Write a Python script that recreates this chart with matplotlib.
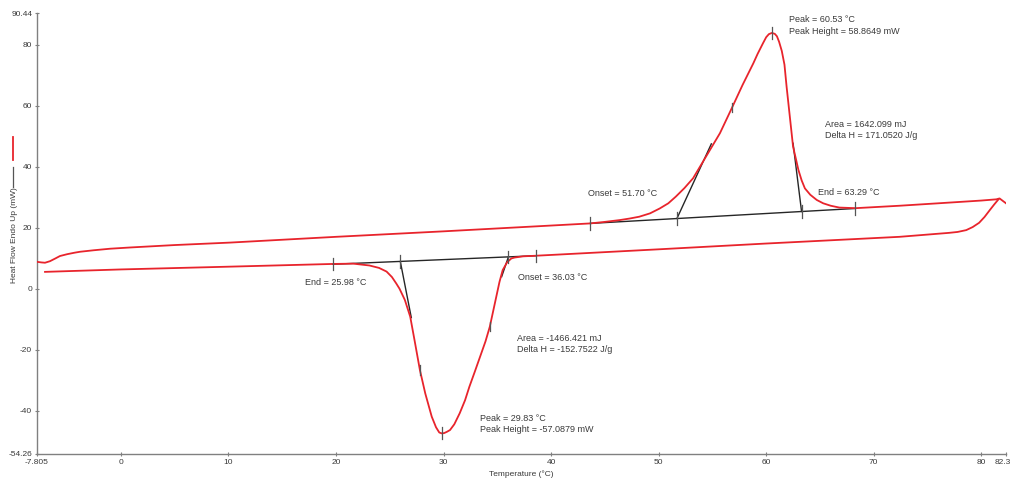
import matplotlib
matplotlib.use("Agg")
from matplotlib import pyplot as plt
from matplotlib import transforms

plt.rcParams['font.family'] = ['Liberation Sans', 'DejaVu Sans']

# heating run (upper trace)
heat_t = [-7.805, -7.4, -7.06, -6.6, -6.1, -5.67, -5.0, -4.3, -3.8, -2.5, -1.0, 0.84,
          5.0, 10.1, 20, 30, 40, 43.65, 45.0, 46.4, 47.3, 48.2, 49.2, 50.1, 50.9,
          51.6, 52.4, 53.2, 54.4, 55.7, 56.8, 57.8, 58.8, 59.2, 59.7, 60.0, 60.25,
          60.53, 60.8, 61.0, 61.2, 61.45, 61.7, 61.9, 62.2, 62.5, 62.8, 63.0, 63.3,
          63.6, 64.1, 64.7, 65.3, 66.0, 66.8, 68.3, 72.4, 76.0, 80.0, 81.4, 81.7, 82.3]
heat_mw = [8.8, 8.6, 8.5, 9.0, 9.9, 10.7, 11.3, 11.8, 12.1, 12.6, 13.1, 13.5,
           14.3, 15.1, 17.0, 18.8, 20.7, 21.4, 21.9, 22.5, 23.0, 23.6, 24.7, 26.3, 28.0,
           30.2, 33.0, 36.2, 43.3, 51.0, 59.2, 66.8, 73.9, 77.0, 80.5, 82.5, 83.5,
           83.9, 83.6, 82.8, 81.0, 78.0, 73.5, 66.2, 56.4, 46.6, 42.0, 38.9, 35.5,
           32.9, 30.8, 29.1, 28.0, 27.2, 26.6, 26.4, 27.2, 28.0, 28.9, 29.3, 29.6, 28.0]

# cooling run (lower trace)
cool_t = [81.6, 81.2, 80.8, 80.3, 79.8, 79.2, 78.6, 77.8, 77.0, 72.4, 60.0, 50.0,
          40.8, 38.6, 37.4, 37.0, 36.6, 36.3, 35.9, 35.5, 35.2, 34.9, 34.6, 34.3,
          33.9, 33.4, 32.9, 32.4, 32.0, 31.5, 31.0, 30.6, 30.3, 30.05, 29.83, 29.6,
          29.3, 28.9, 28.3, 27.8, 27.3, 26.9, 26.4, 25.9, 25.6, 25.2, 24.7, 24.0,
          23.1, 21.6, 19.7, 10.0, 0.0, -7.06]
cool_mw = [29.3, 27.6, 25.8, 23.5, 21.6, 20.2, 19.2, 18.6, 18.3, 17.0, 14.8, 12.9,
           11.2, 10.8, 10.6, 10.4, 10.2, 9.9, 8.6, 6.1, 2.2, -2.7, -7.6, -12.5,
           -17.3, -22.3, -27.3, -32.2, -36.6, -40.9, -44.5, -46.4, -47.0, -47.4, -47.5, -47.2,
           -45.5, -42.0, -34.4, -26.7, -16.9, -9.2, -3.7, 0.0, 1.7, 3.8, 5.6, 6.8,
           7.6, 8.2, 8.1, 7.2, 6.3, 5.5]

# integration baselines, tangent lines and markers
melt_base_t = [43.65, 68.3]
melt_base_mw = [21.4, 26.3]
melt_onset = [[51.70, 23.0], [54.9, 47.5]]
melt_end = [[63.29, 25.3], [62.5, 47.7]]
melt_peak = [60.53, 83.9]
melt_mid = [56.8, 59.4]

cryst_base_t = [19.7, 38.6]
cryst_base_mw = [8.0, 10.8]
cryst_end = [[25.98, 8.9], [27.0, -9.5]]
cryst_onset = [[36.03, 10.4], [35.4, 3.9]]
cryst_peak = [29.83, -47.5]
cryst_mid = [[27.8, -26.7], [34.3, -12.5]]

xticks = [-7.805, 0, 10, 20, 30, 40, 50, 60, 70, 80, 82.3]
xtick_labels = ['-7.805', '0', '10', '20', '30', '40', '50', '60', '70', '80', '82.3']
yticks = [-54.26, -40, -20, 0, 20, 40, 60, 80, 90.44]
ytick_labels = ['-54.26', '-40', '-20', '0', '20', '40', '60', '80', '90.44']

RED = '#e8242c'
DARK = '#262626'
TXT = '#3a3a3a'

fig = plt.figure(figsize=(10.12, 4.83), dpi=100)
ax = fig.add_axes([37 / 1012, 29 / 483, 969 / 1012, 441 / 483])

ax.plot(heat_t, heat_mw, color=RED, lw=1.3, zorder=3, solid_joinstyle='round')
ax.plot(cool_t, cool_mw, color=RED, lw=1.3, zorder=3, solid_joinstyle='round')

# baselines and tangents
ax.plot(melt_base_t, melt_base_mw, color=DARK, lw=1.0, zorder=2)
ax.plot(cryst_base_t, cryst_base_mw, color=DARK, lw=1.0, zorder=2)
for seg in [melt_onset, melt_end, cryst_end, cryst_onset]:
    ax.plot([seg[0][0], seg[1][0]], [seg[0][1], seg[1][1]], color=DARK, lw=1.0, zorder=2)


def tick(x, y, h=2.0):
    ax.plot([x, x], [y - h, y + h], color='#555555', lw=0.9, zorder=4)


for t, m in zip(melt_base_t, melt_base_mw):
    tick(t, m)
for t, m in zip(cryst_base_t, cryst_base_mw):
    tick(t, m)
tick(melt_onset[0][0], melt_onset[0][1])
tick(melt_end[0][0], melt_end[0][1])
tick(cryst_end[0][0], cryst_end[0][1])
tick(cryst_onset[0][0], cryst_onset[0][1])
tick(melt_peak[0], melt_peak[1])
tick(cryst_peak[0], cryst_peak[1])
tick(melt_mid[0], melt_mid[1], 1.5)
for p in cryst_mid:
    tick(p[0], p[1], 1.5)

# annotations
fs = 6.5
ax.text(62.1, 88.2, 'Peak = 60.53 °C', fontsize=fs, color=TXT, va='center')
ax.text(62.1, 84.4, 'Peak Height = 58.8649 mW', fontsize=fs, color=TXT, va='center')
ax.text(65.5, 54.0, 'Area = 1642.099 mJ', fontsize=fs, color=TXT, va='center')
ax.text(65.5, 50.4, 'Delta H = 171.0520 J/g', fontsize=fs, color=TXT, va='center')
ax.text(64.8, 31.7, 'End = 63.29 °C', fontsize=fs, color=TXT, va='center')
ax.text(43.4, 31.3, 'Onset = 51.70 °C', fontsize=fs, color=TXT, va='center')
ax.text(17.1, 2.1, 'End = 25.98 °C', fontsize=fs, color=TXT, va='center')
ax.text(36.9, 3.7, 'Onset = 36.03 °C', fontsize=fs, color=TXT, va='center')
ax.text(36.8, -16.5, 'Area = -1466.421 mJ', fontsize=fs, color=TXT, va='center')
ax.text(36.8, -20.1, 'Delta H = -152.7522 J/g', fontsize=fs, color=TXT, va='center')
ax.text(33.4, -42.6, 'Peak = 29.83 °C', fontsize=fs, color=TXT, va='center')
ax.text(33.4, -46.2, 'Peak Height = -57.0879 mW', fontsize=fs, color=TXT, va='center')

ax.set_xlim(xticks[0], xticks[-1])
ax.set_ylim(yticks[0], yticks[-1])
ax.set_xticks(xticks)
ax.set_xticklabels(xtick_labels)
ax.set_yticks(yticks)
ax.set_yticklabels(ytick_labels)
ax.tick_params(labelsize=6, colors='#808080', labelcolor=TXT, length=3, width=0.8,
               direction='inout', pad=2)
for side in ['top', 'right']:
    ax.spines[side].set_visible(False)
for side in ['left', 'bottom']:
    ax.spines[side].set_color('#808080')
    ax.spines[side].set_linewidth(1.0)

# keep the last x label inside the figure
last = ax.get_xticklabels()[-1]
last.set_horizontalalignment('right')
last.set_transform(last.get_transform() +
                   transforms.ScaledTranslation(5 / 100, 0, fig.dpi_scale_trans))

ax.set_xlabel('Temperature (°C)', fontsize=6, color=TXT, labelpad=3)

# y label with the trace keys stacked above it
fig.text(15 / 1012, 1 - 235 / 483, 'Heat Flow Endo Up (mW)', rotation=90,
         fontsize=6, color=TXT, ha='center', va='center')
fig.add_artist(plt.Line2D([13 / 1012, 13 / 1012], [1 - 137 / 483, 1 - 160 / 483],
                          color=RED, lw=1.3))
fig.add_artist(plt.Line2D([13 / 1012, 13 / 1012], [1 - 167 / 483, 1 - 187 / 483],
                          color='#555555', lw=0.9))

fig.savefig('out.png', dpi=100)
